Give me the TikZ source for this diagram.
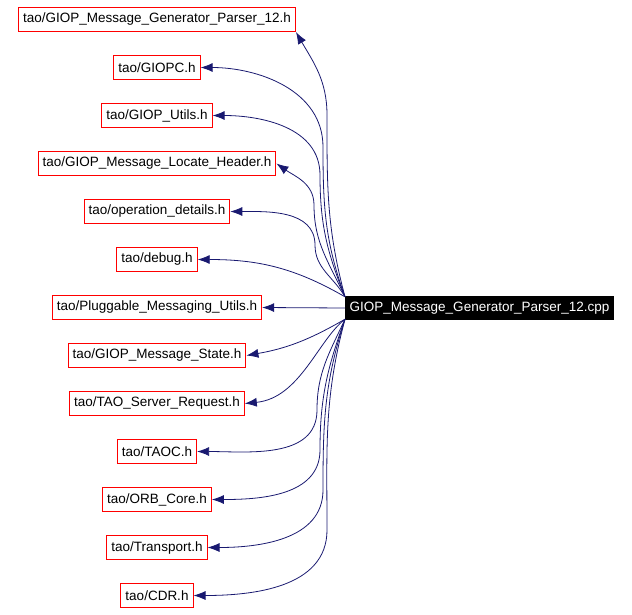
\documentclass[tikz,border=0pt]{standalone}
\usepackage{fontspec}
\setmainfont{Liberation Sans}
\usetikzlibrary{positioning, arrows.meta}
\definecolor{edgeblue}{RGB}{25,25,112}

\begin{document}
\begin{tikzpicture}[
      x=1pt, y=1pt,
      node distance=23pt,
      hdr/.style={draw=red, line width=1pt, inner xsep=4.5pt, minimum height=24pt, font=\fontsize{13.5}{15}\selectfont},
      src/.style={fill=black, text=white, inner xsep=4.5pt, minimum height=24pt, font=\fontsize{13.5}{15}\selectfont},
      dep/.style={draw=edgeblue, line width=0.8pt, -{Latex[width=9pt, length=12pt]}}]
      \useasboundingbox (0,0) rectangle (632,-614);
      \node[hdr] (gen) at (157,-19.5) {tao/GIOP\_Message\_Generator\_Parser\_12.h};
      \node[hdr] (giopc) [below=of gen] {tao/GIOPC.h};
      \node[hdr] (utils) [below=of giopc] {tao/GIOP\_Utils.h};
      \node[hdr] (locate) [below=of utils] {tao/GIOP\_Message\_Locate\_Header.h};
      \node[hdr] (opdet) [below=of locate] {tao/operation\_details.h};
      \node[hdr] (debug) [below=of opdet] {tao/debug.h};
      \node[hdr] (plug) [below=of debug] {tao/Pluggable\_Messaging\_Utils.h};
      \node[hdr] (state) [below=of plug] {tao/GIOP\_Message\_State.h};
      \node[hdr] (request) [below=of state] {tao/TAO\_Server\_Request.h};
      \node[hdr] (taoc) [below=of request] {tao/TAOC.h};
      \node[hdr] (orbcore) [below=of taoc] {tao/ORB\_Core.h};
      \node[hdr] (transport) [below=of orbcore] {tao/Transport.h};
      \node[hdr] (cdr) [below=of transport] {tao/CDR.h};
      \node[src, anchor=west] (main) at (345,-308) {GIOP\_Message\_Generator\_Parser\_12.cpp};

      % upper includes
      \draw[dep] ([yshift=-1pt]main.north west) to[out=105, in=-90] (327,-115) to[out=90, in=-60] (gen.south east);
      \draw[dep] ([yshift=-1pt]main.north west) to[out=110, in=-90] (323,-147) to[out=90, in=0] (giopc.east);
      \draw[dep] ([yshift=-1pt]main.north west) to[out=112, in=-90] (320,-175) to[out=90, in=0] (utils.east);
      \draw[dep] ([yshift=-1pt]main.north west) to[out=115, in=-90] (314,-205) to[out=90, in=-35] (locate.east);
      \draw[dep] ([yshift=-1pt]main.north west) to[out=120, in=-90] (315,-245) to[out=90, in=0] (opdet.east);
      \draw[dep] ([yshift=-1pt]main.north west) to[out=150, in=0] (debug.east);
      \draw[dep] (main.west) -- (plug.east);
      % lower includes
      \draw[dep] ([yshift=1pt]main.south west) to[out=-150, in=10] (state.east);
      \draw[dep] ([yshift=1pt]main.south west) .. controls (318,-340) and (300,-398) .. (request.east);
      \draw[dep] ([yshift=1pt]main.south west) to[out=-115, in=90] (317,-410) to[out=-90, in=0] (taoc.east);
      \draw[dep] ([yshift=1pt]main.south west) to[out=-110, in=90] (320,-450) to[out=-90, in=0] (orbcore.east);
      \draw[dep] ([yshift=1pt]main.south west) to[out=-108, in=90] (323,-490) to[out=-90, in=0] (transport.east);
      \draw[dep] ([yshift=1pt]main.south west) to[out=-105, in=90] (327,-530) to[out=-90, in=0] (cdr.east);
\end{tikzpicture}
\end{document}
